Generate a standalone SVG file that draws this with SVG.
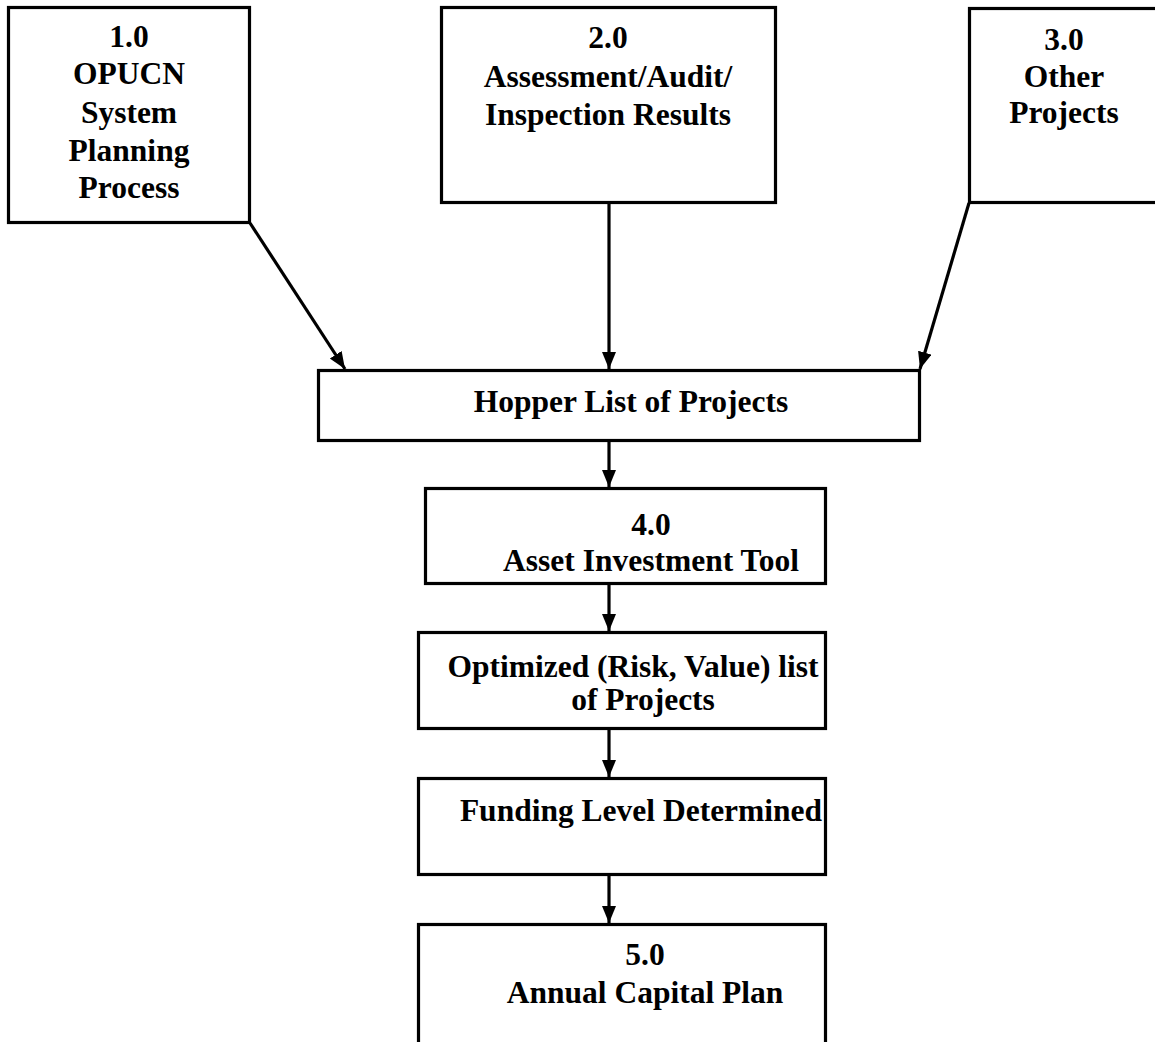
<svg xmlns="http://www.w3.org/2000/svg" width="1155" height="1042" viewBox="0 0 1155 1042">
<style>
.box{fill:#fff;stroke:#000;stroke-width:3.2}
.t{font-family:"Liberation Serif","Times New Roman",serif;font-weight:bold;font-size:31.5px;fill:#000;text-anchor:middle}
.c{stroke:#000;stroke-width:3.2;fill:none;marker-end:url(#ah)}
</style>
<defs>
<marker id="ah" markerUnits="userSpaceOnUse" markerWidth="18" markerHeight="16" refX="17" refY="7" orient="auto">
<path d="M0,0 L17,7 L0,14 z" fill="#000"/>
</marker>
</defs>
<rect width="1155" height="1042" fill="#fff"/>
<g id="n1">
<rect class="box" x="8.5" y="7.5" width="241" height="215"/>
<text class="t" x="129" y="47">1.0</text>
<text class="t" x="129" y="84">OPUCN</text>
<text class="t" x="129" y="123">System</text>
<text class="t" x="129" y="161">Planning</text>
<text class="t" x="129" y="198">Process</text>
</g>
<g id="n2">
<rect class="box" x="441.5" y="7.5" width="334" height="195"/>
<text class="t" x="608" y="48">2.0</text>
<text class="t" x="608" y="87">Assessment/Audit/</text>
<text class="t" x="608" y="125">Inspection Results</text>
</g>
<g id="n3">
<rect class="box" x="969.5" y="8.5" width="200" height="194"/>
<text class="t" x="1064" y="50">3.0</text>
<text class="t" x="1064" y="87">Other</text>
<text class="t" x="1064" y="123">Projects</text>
</g>
<g id="hopper">
<rect class="box" x="318.5" y="370.5" width="601" height="70"/>
<text class="t" x="631" y="412">Hopper List of Projects</text>
</g>
<g id="n4">
<rect class="box" x="425.5" y="488.5" width="400" height="95"/>
<text class="t" x="651" y="535">4.0</text>
<text class="t" x="651" y="571">Asset Investment Tool</text>
</g>
<g id="optimized">
<rect class="box" x="418.5" y="632.5" width="407" height="96"/>
<text class="t" x="633" y="677">Optimized (Risk, Value) list</text>
<text class="t" x="643" y="710">of Projects</text>
</g>
<g id="funding">
<rect class="box" x="418.5" y="778.5" width="407" height="96"/>
<text class="t" x="641" y="821">Funding Level Determined</text>
</g>
<g id="n5">
<rect class="box" x="418.5" y="924.5" width="407" height="130"/>
<text class="t" x="645" y="965">5.0</text>
<text class="t" x="645" y="1003">Annual Capital Plan</text>
</g>
<g id="connectors">
<line class="c" x1="250" y1="223" x2="345" y2="369"/>
<line class="c" x1="609" y1="203" x2="609" y2="369"/>
<line class="c" x1="969" y1="203" x2="920" y2="369"/>
<line class="c" x1="609" y1="441" x2="609" y2="487"/>
<line class="c" x1="609" y1="584" x2="609" y2="631"/>
<line class="c" x1="609" y1="729" x2="609" y2="777"/>
<line class="c" x1="609" y1="875" x2="609" y2="923"/>
</g>
</svg>
